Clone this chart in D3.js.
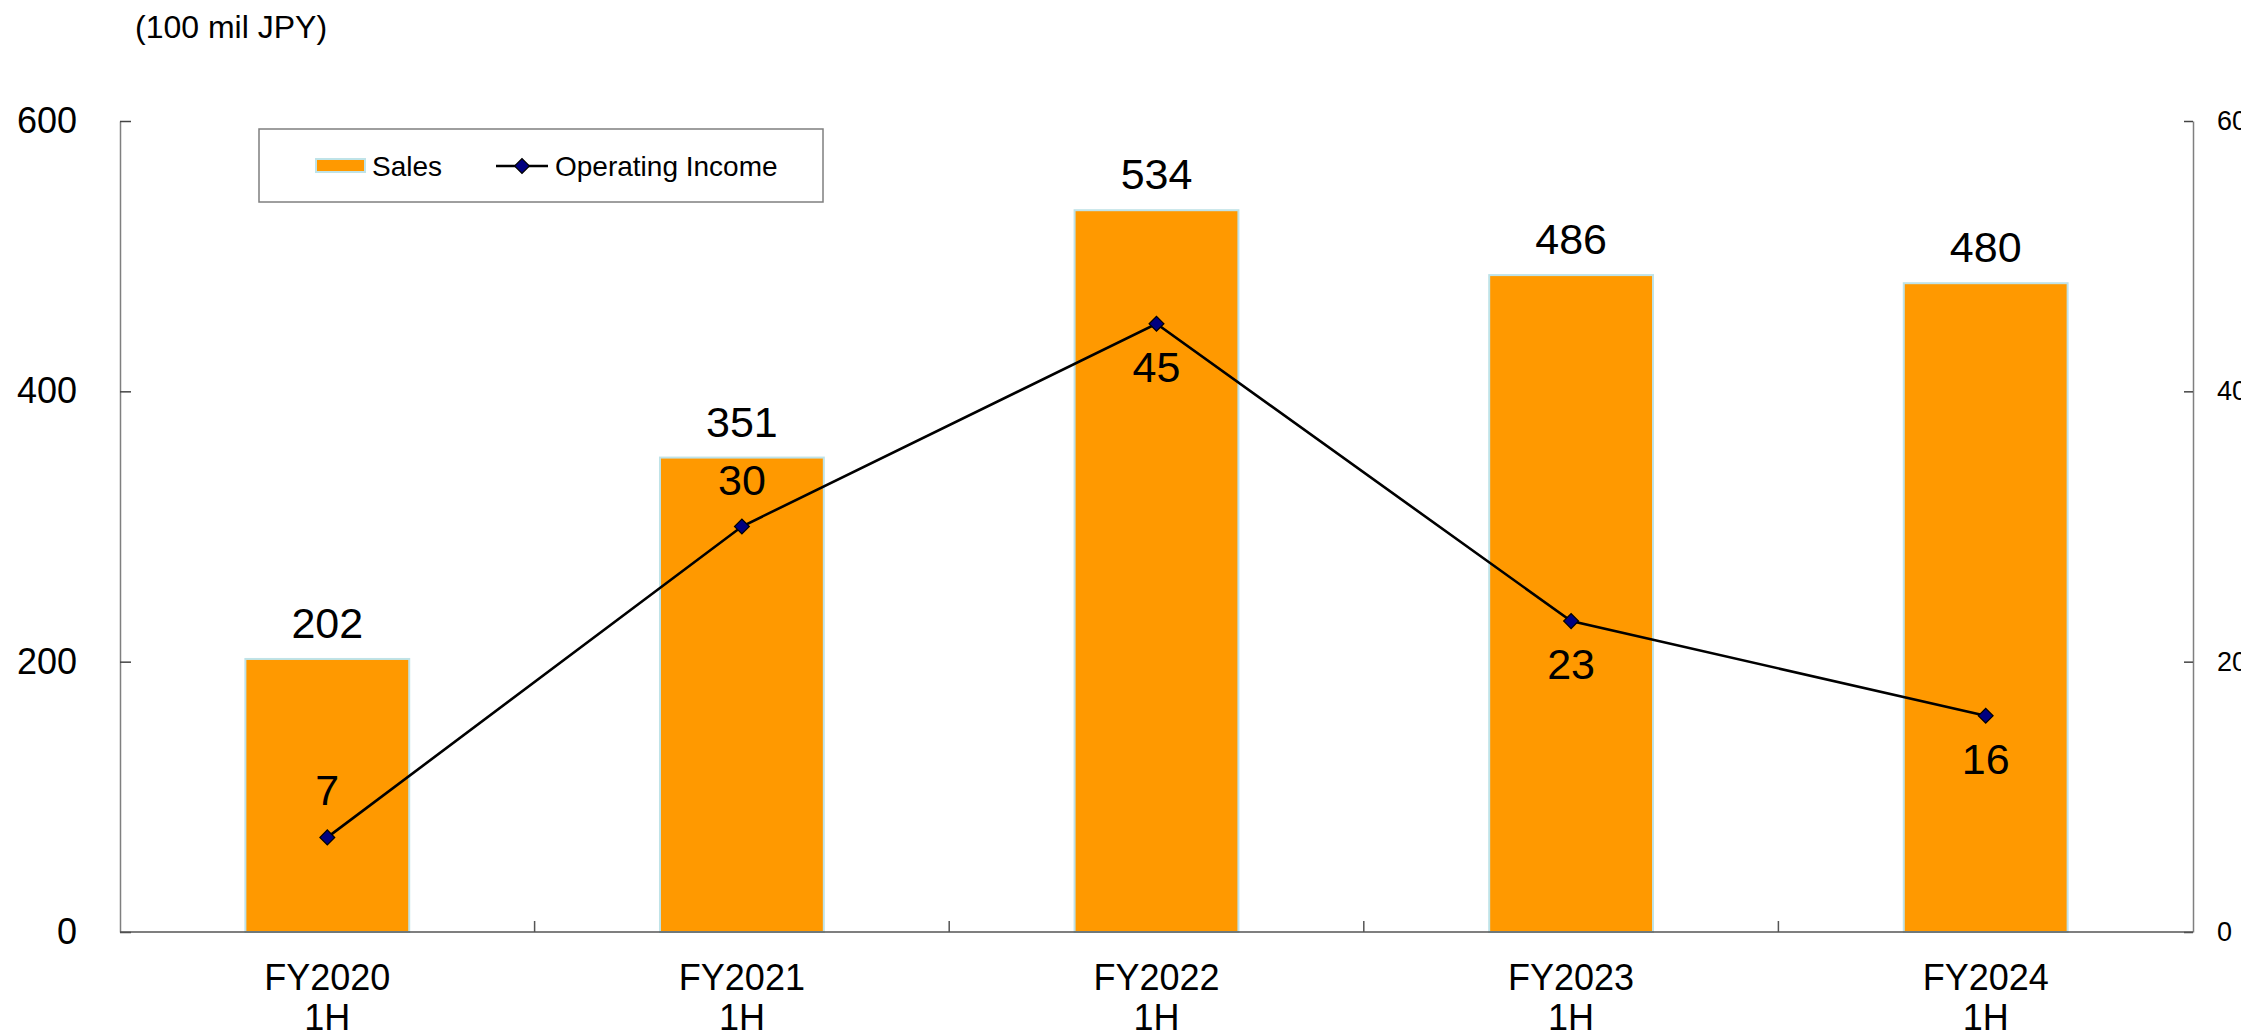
<!DOCTYPE html>
<html>
<head>
<meta charset="utf-8">
<script src="https://cdn.jsdelivr.net/npm/d3@7"></script>
<style>
  html, body { margin: 0; padding: 0; background: #fff; }
  svg { display: block; font-family: "Liberation Sans", Arial, sans-serif; }
</style>
</head>
<body>
<div id="chart"></div>
<script>
const width = 2241;
const height = 1036;

// data
const categories = ["FY2020\n1H", "FY2021\n1H", "FY2022\n1H", "FY2023\n1H", "FY2024\n1H"];
const sales = [202, 351, 534, 486, 480];
const operatingIncome = [7, 30, 45, 23, 16];
const incomeLabelSide = ["above", "above", "below", "below", "below"];
const leftTicks = [0, 200, 400, 600];
const rightTicks = [0, 20, 40, 60];

const margin = {top: 121, right: 48, bottom: 104, left: 120};
const plotBottom = height - margin.bottom;

const x = d3.scaleBand()
    .domain(categories)
    .range([margin.left, width - margin.right])
    .padding(0);

const yLeft = d3.scaleLinear().domain([0, 600]).range([plotBottom, margin.top]);
const yRight = d3.scaleLinear().domain([0, 60]).range([plotBottom, margin.top]);

const barW = x.bandwidth() * 0.4;
const cx = d => x(d) + x.bandwidth() / 2;

const svg = d3.select("#chart").append("svg")
    .attr("width", width)
    .attr("height", height);

// unit label
svg.append("text")
    .attr("x", 135)
    .attr("y", 38)
    .attr("font-size", 32)
    .attr("fill", "#000")
    .text("(100 mil JPY)");

// bars
svg.append("g")
  .selectAll("rect")
  .data(categories)
  .join("rect")
    .attr("x", d => cx(d) - barW / 2 + 1)
    .attr("y", (d, i) => yLeft(sales[i]))
    .attr("width", barW - 2)
    .attr("height", (d, i) => plotBottom - yLeft(sales[i]))
    .attr("fill", "#FF9900")
    .attr("stroke", "#BFE3E8")
    .attr("stroke-width", 2);

// left axis
const leftAxis = svg.append("g")
    .attr("transform", `translate(${margin.left},0)`)
    .call(d3.axisLeft(yLeft).tickValues(leftTicks).tickSize(-11).tickSizeOuter(0).tickPadding(43));
leftAxis.select(".domain").attr("stroke", "#7f7f7f").attr("stroke-width", 1.5);
leftAxis.selectAll(".tick line").attr("stroke", "#444").attr("stroke-width", 1.5);
leftAxis.selectAll(".tick text")
    .attr("font-size", 36)
    .attr("font-family", "Liberation Sans, Arial, sans-serif")
    .attr("fill", "#000");

// right axis
const rightAxis = svg.append("g")
    .attr("transform", `translate(${width - margin.right},0)`)
    .call(d3.axisRight(yRight).tickValues(rightTicks).tickSize(-9).tickSizeOuter(0).tickPadding(24));
rightAxis.select(".domain").attr("stroke", "#7f7f7f").attr("stroke-width", 1.5);
rightAxis.selectAll(".tick line").attr("stroke", "#444").attr("stroke-width", 1.5);
rightAxis.selectAll(".tick text")
    .attr("font-size", 27)
    .attr("font-family", "Liberation Sans, Arial, sans-serif")
    .attr("fill", "#000");

// bottom axis line + category boundary ticks
svg.append("line")
    .attr("x1", margin.left).attr("x2", width - margin.right)
    .attr("y1", plotBottom).attr("y2", plotBottom)
    .attr("stroke", "#555").attr("stroke-width", 1.5);

svg.append("g")
  .selectAll("line")
  .data(categories.slice(1))
  .join("line")
    .attr("x1", d => x(d)).attr("x2", d => x(d))
    .attr("y1", plotBottom).attr("y2", plotBottom - 11)
    .attr("stroke", "#555").attr("stroke-width", 1.5);

// category labels
svg.append("g")
    .attr("font-size", 36)
    .attr("text-anchor", "middle")
  .selectAll("text")
  .data(categories)
  .join("text")
    .attr("x", d => cx(d))
    .attr("y", plotBottom + 58)
    .each(function(d) {
      const lines = d.split("\n");
      d3.select(this).selectAll("tspan")
        .data(lines)
        .join("tspan")
          .attr("x", cx(d))
          .attr("dy", (l, i) => i === 0 ? 0 : 40)
          .text(l => l);
    });

// sales labels
svg.append("g")
    .attr("font-size", 43)
    .attr("text-anchor", "middle")
  .selectAll("text")
  .data(categories)
  .join("text")
    .attr("x", d => cx(d))
    .attr("y", (d, i) => yLeft(sales[i]) - 21)
    .text((d, i) => sales[i]);

// operating income line
const line = d3.line()
    .x((d, i) => cx(categories[i]))
    .y(d => yRight(d));

svg.append("path")
    .datum(operatingIncome)
    .attr("fill", "none")
    .attr("stroke", "#000")
    .attr("stroke-width", 2.6)
    .attr("d", line);

const diamond = d3.symbol().type(d3.symbolSquare).size(110);

svg.append("g")
  .selectAll("path")
  .data(operatingIncome)
  .join("path")
    .attr("d", diamond)
    .attr("transform", (d, i) => `translate(${cx(categories[i])},${yRight(d)}) rotate(45)`)
    .attr("fill", "#000080")
    .attr("stroke", "#000")
    .attr("stroke-width", 1.2);

svg.append("g")
    .attr("font-size", 43)
    .attr("text-anchor", "middle")
  .selectAll("text")
  .data(operatingIncome)
  .join("text")
    .attr("x", (d, i) => cx(categories[i]))
    .attr("y", (d, i) => incomeLabelSide[i] === "above" ? yRight(d) - 32 : yRight(d) + 58)
    .text(d => d);

// legend
const legend = svg.append("g");
legend.append("rect")
    .attr("x", 259).attr("y", 129)
    .attr("width", 564).attr("height", 73)
    .attr("fill", "#fff")
    .attr("stroke", "#7f7f7f")
    .attr("stroke-width", 1.5);
legend.append("rect")
    .attr("x", 316).attr("y", 159)
    .attr("width", 49).attr("height", 13)
    .attr("fill", "#FF9900")
    .attr("stroke", "#BFE3E8")
    .attr("stroke-width", 2);
legend.append("text")
    .attr("x", 372).attr("y", 176)
    .attr("font-size", 28)
    .text("Sales");
legend.append("line")
    .attr("x1", 496).attr("x2", 548)
    .attr("y1", 166).attr("y2", 166)
    .attr("stroke", "#000").attr("stroke-width", 2.6);
legend.append("path")
    .attr("d", diamond)
    .attr("transform", "translate(522,166) rotate(45)")
    .attr("fill", "#000080")
    .attr("stroke", "#000")
    .attr("stroke-width", 1.2);
legend.append("text")
    .attr("x", 555).attr("y", 176)
    .attr("font-size", 28)
    .text("Operating Income");
</script>
</body>
</html>
